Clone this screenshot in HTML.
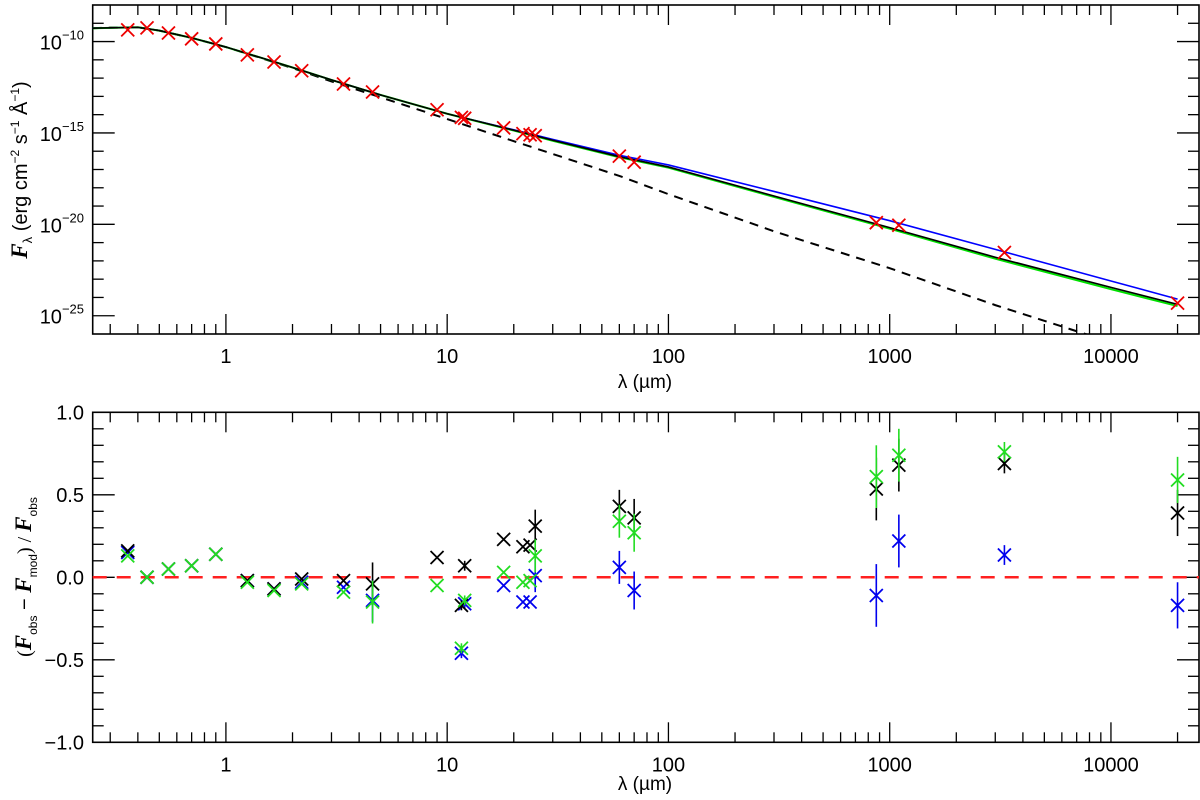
<!DOCTYPE html>
<html><head><meta charset="utf-8">
<style>
html,body{margin:0;padding:0;background:#fff;}
svg{display:block;font-family:"Liberation Sans",sans-serif;}
</style></head>
<body>
<svg id="c" width="1200" height="800" viewBox="0 0 1200 800" xmlns="http://www.w3.org/2000/svg">
<g id="topPanel"></g>
<g id="botPanel"></g>
<text x="645" y="388" font-size="19" text-anchor="middle">λ (µm)</text>
<text x="645" y="790" font-size="19" text-anchor="middle">λ (µm)</text>
<text transform="translate(27,170) rotate(-90)" font-size="20" text-anchor="middle"><tspan font-family="Liberation Serif,serif" font-weight="bold" font-style="italic" font-size="23">F</tspan><tspan font-size="13" dy="5">λ</tspan><tspan dy="-5"> (erg cm</tspan><tspan font-size="12" dy="-8">−2</tspan><tspan dy="8"> s</tspan><tspan font-size="12" dy="-8">−1</tspan><tspan dy="8"> Å</tspan><tspan font-size="12" dy="-8">−1</tspan><tspan dy="8">)</tspan></text>
<text transform="translate(31,577) rotate(-90)" font-size="20" text-anchor="middle"><tspan font-family="Liberation Serif,serif">(</tspan><tspan font-family="Liberation Serif,serif" font-weight="bold" font-style="italic" font-size="23">F</tspan><tspan font-size="12" dy="6">obs</tspan><tspan dy="-6"> − </tspan><tspan font-family="Liberation Serif,serif" font-weight="bold" font-style="italic" font-size="23">F</tspan><tspan font-size="12" dy="6">mod</tspan><tspan dy="-6" font-family="Liberation Serif,serif">) / </tspan><tspan font-family="Liberation Serif,serif" font-weight="bold" font-style="italic" font-size="23">F</tspan><tspan font-size="12" dy="6">obs</tspan></text>
</svg>
<script>
// ---- data ----
const obsWl = [0.36,0.44,0.55,0.7,0.9,1.25,1.65,2.2,3.4,4.6,9,11.6,12,18,22,23.7,25,60,70,870,1100,3300,20000];
const obsLogF = [-9.36,-9.25,-9.53,-9.85,-10.13,-10.73,-11.12,-11.60,-12.32,-12.76,-13.73,-14.15,-14.2,-14.72,-15.04,-15.1,-15.15,-16.27,-16.60,-19.91,-20.05,-21.54,-24.31];
const modelWl = [0.25,0.3,0.4,0.5,0.7,1,1.5,2,3,5,10,20,30,60,100,300,1000,3000,10000,20000];
const modelBlack = [-9.27,-9.25,-9.22,-9.4,-9.8,-10.3,-10.95,-11.42,-12.1,-12.92,-13.95,-14.85,-15.4,-16.3,-16.86,-18.45,-20.18,-21.8,-23.45,-24.38];
const modelBlue = [-9.27,-9.25,-9.22,-9.4,-9.8,-10.3,-10.95,-11.42,-12.1,-12.92,-13.95,-14.83,-15.35,-16.22,-16.75,-18.2,-19.8,-21.37,-23.1,-24.09];
const modelGreen = [-9.27,-9.25,-9.22,-9.4,-9.8,-10.3,-10.95,-11.42,-12.1,-12.92,-13.95,-14.87,-15.43,-16.33,-16.9,-18.5,-20.24,-21.88,-23.55,-24.47];
const photoWl = [0.25,0.3,0.4,0.5,0.7,1,1.5,2,3,5,10,20,30,60,100,300,1000,3000,10000];
const photoLogF = [-9.27,-9.24,-9.22,-9.4,-9.8,-10.3,-10.97,-11.45,-12.18,-13.05,-14.24,-15.45,-16.15,-17.35,-18.35,-20.38,-22.4,-24.42,-26.45];
const resBlack = [0.16,0.0,0.05,0.07,0.14,-0.02,-0.07,-0.01,-0.02,-0.04,0.12,-0.17,0.07,0.23,0.185,0.195,0.31,0.43,0.36,0.535,0.68,0.69,0.39];
const resGreen = [0.13,0.0,0.05,0.07,0.14,-0.03,-0.08,-0.04,-0.09,-0.15,-0.05,-0.43,-0.14,0.03,-0.03,-0.02,0.13,0.34,0.27,0.61,0.74,0.76,0.59];
const resBlue = [0.15,0.0,0.05,0.07,0.14,-0.02,-0.07,-0.03,-0.06,-0.14,null,-0.46,-0.16,-0.05,-0.15,-0.15,0.01,0.06,-0.08,-0.11,0.22,0.135,-0.17];
const resErr = [0,0,0,0,0,0,0,0,0,0.13,0,0.03,0.03,0,0,0,0.1,0.1,0.115,0.19,0.16,0.06,0.14];
const xTickLabels = ["1","10","100","1000","10000"];
const topYTickExp = ["−10","−15","−20","−25"];
const botYTickLabels = ["−1.0","−0.5","0.0","0.5","1.0"];

// ---- geometry ----
const X0=92.7, X1=1199, XMIN=Math.log10(0.25), XMAX=Math.log10(25000);
const TY0=5, TY1=334, TMIN=-26, TMAX=-8;
const BY0=412.3, BY1=742.3, BMIN=-1, BMAX=1;
const NS="http://www.w3.org/2000/svg";
function sx(w){return X0+(Math.log10(w)-XMIN)/(XMAX-XMIN)*(X1-X0);}
function ty(l){return TY1-(l-TMIN)/(TMAX-TMIN)*(TY1-TY0);}
function by(v){return BY1-(v-BMIN)/(BMAX-BMIN)*(BY1-BY0);}
function mk(tag,attrs,parent){const e=document.createElementNS(NS,tag);for(const k in attrs)e.setAttribute(k,attrs[k]);parent.appendChild(e);return e;}
const topG=document.getElementById('topPanel'), botG=document.getElementById('botPanel');

function frame(g,y0,y1,yTicksMajor,yTicksMinor,yfun,name){
  const cp=mk('clipPath',{id:'cp'+name},g);
  mk('rect',{x:X0,y:y0,width:X1-X0,height:y1-y0},cp);
  for(let d=-1;d<=4;d++){for(let m=1;m<10;m++){const w=m*Math.pow(10,d);const x=sx(w);if(x<X0||x>X1)continue;const L=m===1?20:10;
    const t1=mk('line',{x1:x,x2:x,y1:y1,y2:y1-L,stroke:'#000','stroke-width':1.3},g);
    
    
    mk('line',{x1:x,x2:x,y1:y0,y2:y0+L,stroke:'#000','stroke-width':1.3},g);}}
  xTickLabels.forEach((s,i)=>{const t=mk('text',{x:sx(Math.pow(10,i)),y:y1+29,'font-size':20,'text-anchor':'middle'},g);t.textContent=s;
    
    });
  yTicksMajor.forEach(v=>{const y=yfun(v);mk('line',{x1:X0,x2:X0+22,y1:y,y2:y,stroke:'#000','stroke-width':1.3},g);mk('line',{x1:X1,x2:X1-22,y1:y,y2:y,stroke:'#000','stroke-width':1.3},g);});
  yTicksMinor.forEach(v=>{const y=yfun(v);mk('line',{x1:X0,x2:X0+11,y1:y,y2:y,stroke:'#000','stroke-width':1.3},g);mk('line',{x1:X1,x2:X1-11,y1:y,y2:y,stroke:'#000','stroke-width':1.3},g);});
  const r=mk('rect',{x:X0,y:y0,width:X1-X0,height:y1-y0,fill:'none',stroke:'#000','stroke-width':1.6},g);
  
  
}
function cross(g,x,y,s,col,w){mk('path',{d:`M${x-s},${y-s}L${x+s},${y+s}M${x-s},${y+s}L${x+s},${y-s}`,stroke:col,'stroke-width':w,fill:'none'},g);}
function poly(g,xs,ys,col,w,dash,name,clip){const p=mk('polyline',{points:xs.map((v,i)=>sx(v).toFixed(2)+','+ty(ys[i]).toFixed(2)).join(' '),fill:'none',stroke:col,'stroke-width':w,'clip-path':'url(#'+clip+')'},g);if(dash)p.setAttribute('stroke-dasharray',dash);
  
  }

// ---- top panel ----
const tMaj=[-10,-15,-20,-25], tMin=[];for(let d=-25;d<=-9;d++)if(d%5!==0)tMin.push(d);
frame(topG,TY0,TY1,tMaj,tMin,ty,'top');
topYTickExp.forEach((s,i)=>{const t=mk('text',{x:84,y:ty(tMaj[i])+8,'font-size':20,'text-anchor':'end'},topG);
  t.innerHTML='10<tspan font-size="13" dy="-10">'+s+'</tspan>';
  
  });
poly(topG,photoWl,photoLogF,'#000',2,'9,7','photosphere-dashed','cptop');
poly(topG,modelWl,modelBlue,'#0000ff',1.6,null,'model-blue','cptop');
poly(topG,modelWl,modelGreen,'#00e000',2,null,'model-green','cptop');
poly(topG,modelWl,modelBlack,'#000',1.6,null,'model-black','cptop');
const tg=mk('g',{},topG);


obsWl.forEach((w,i)=>cross(tg,sx(w),ty(obsLogF[i]),6.5,'#ee0000',1.8));

// ---- bottom panel ----
const bMaj=[-1,-0.5,0,0.5,1], bMin=[];for(let k=-9;k<=9;k++)if(k%5!==0)bMin.push(k/10);
frame(botG,BY0,BY1,bMaj,bMin,by,'bottom');
botYTickLabels.forEach((s,i)=>{const t=mk('text',{x:84,y:by(bMaj[i])+7,'font-size':20,'text-anchor':'end'},botG);t.textContent=s;
  
  });
const zl=mk('line',{x1:X0,x2:X1,y1:by(0),y2:by(0),stroke:'#ff2020','stroke-width':2.5,'stroke-dasharray':'14,10'},botG);


[[resBlue,'#0000ee','residuals-blue'],[resBlack,'#000','residuals-black'],[resGreen,'#22dd22','residuals-green']].forEach(([arr,col,name])=>{
  const g=mk('g',{},botG);
  
  
  arr.forEach((v,i)=>{if(v===null)return;const x=sx(obsWl[i]),y=by(v);
    if(resErr[i]>0)mk('line',{x1:x,x2:x,y1:by(v-resErr[i]),y2:by(v+resErr[i]),stroke:col,'stroke-width':1.6},g);
    cross(g,x,y,6.5,col,1.8);});
});
</script>
</body></html>
